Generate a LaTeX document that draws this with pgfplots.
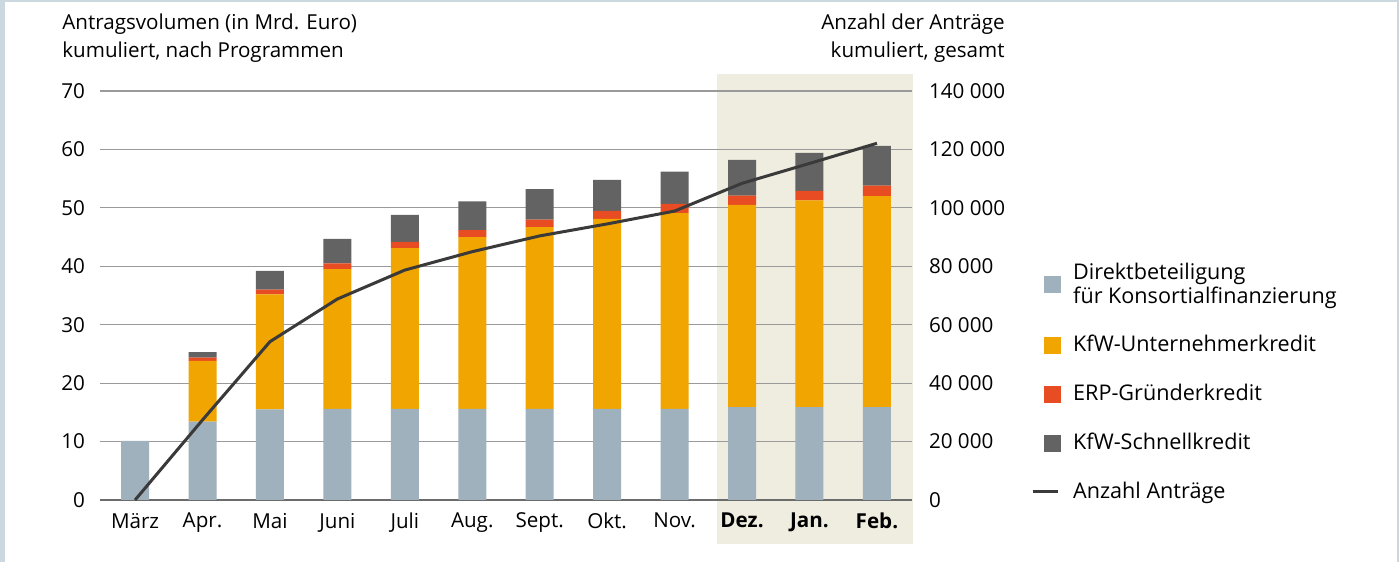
\documentclass[border=0pt]{standalone}
\usepackage{pgfplots}
\pgfplotsset{compat=1.18}
\usepackage{fontspec}
\setmainfont{Open Sans}
\definecolor{cBlue}{HTML}{9FB1BD}
\definecolor{cOrange}{HTML}{F0A500}
\definecolor{cRed}{HTML}{E84C22}
\definecolor{cDark}{HTML}{636363}
\definecolor{cShade}{HTML}{EFECE0}
\definecolor{cGrid}{HTML}{9A9A9A}
\definecolor{cLine}{HTML}{3A3A3A}
\definecolor{cFrame}{HTML}{CCD8E0}
\begin{document}
\begin{tikzpicture}[font=\fontsize{10.3}{12}\selectfont]
% canvas: 1 px = 0.5 pt, origin bottom-left
\fill[cFrame] (0,0) rectangle (699.5pt,281pt);
\fill[white] (2.5pt,0) rectangle (698.5pt,280.2pt);
\fill[cShade] (358.5pt,9pt) rectangle (456.5pt,244pt);
\node[anchor=west,align=left,inner sep=0pt] at (31pt,269pt) {Antragsvolumen (in Mrd. Euro)};
\node[anchor=west,align=left,inner sep=0pt] at (31pt,255pt) {kumuliert, nach Programmen};
\node[anchor=east,align=right,inner sep=0pt] at (502.5pt,269pt) {Anzahl der Anträge};
\node[anchor=east,align=right,inner sep=0pt] at (502.5pt,255pt) {kumuliert, gesamt};
\begin{axis}[
  at={(50pt,31pt)}, anchor=south west,
  scale only axis, width=406pt, height=204.5pt,
  ybar stacked, bar width=14pt,
  xmin=-0.52, xmax=11.52, ymin=0, ymax=70,
  ytick={0,10,...,70},
  yticklabels={0,10,20,30,40,50,60,70},
  xtick={0,...,11},
  xticklabels={März,Apr.,Mai,Juni,Juli,Aug.,Sept.,Okt.,Nov.,\textbf{Dez.},\textbf{Jan.},\textbf{Feb.}},
  axis y line*=left, axis x line*=bottom,
  y axis line style={draw=none},
  x axis line style={draw=cGrid!70!black, line width=0.6pt},
  ymajorgrids, grid style={cGrid, line width=0.6pt},
  major tick length=0pt,
  yticklabel style={xshift=-4pt},
  xticklabel style={yshift=-3pt},
  clip=false,
]
\addplot[fill=cBlue, draw=none] coordinates {(0,10.1) (1,13.4) (2,15.5) (3,15.6) (4,15.6) (5,15.6) (6,15.6) (7,15.6) (8,15.6) (9,15.9) (10,15.9) (11,15.9)};
\addplot[fill=cOrange, draw=none] coordinates {(0,0) (1,10.4) (2,19.7) (3,23.9) (4,27.5) (5,29.4) (6,31.1) (7,32.5) (8,33.5) (9,34.6) (10,35.4) (11,36.1)};
\addplot[fill=cRed, draw=none] coordinates {(0,0) (1,0.55) (2,0.8) (3,1.0) (4,1.1) (5,1.2) (6,1.3) (7,1.4) (8,1.6) (9,1.6) (10,1.6) (11,1.8)};
\addplot[fill=cDark, draw=none] coordinates {(0,0) (1,0.95) (2,3.2) (3,4.2) (4,4.6) (5,4.9) (6,5.2) (7,5.3) (8,5.5) (9,6.1) (10,6.5) (11,6.8)};
\end{axis}
\begin{axis}[
  at={(50pt,31pt)}, anchor=south west,
  scale only axis, width=406pt, height=204.5pt,
  xmin=-0.52, xmax=11.52, ymin=0, ymax=140000,
  ytick={0,20000,40000,60000,80000,100000,120000,140000},
  yticklabels={0,20 000,40 000,60 000,80 000,100 000,120 000,140 000},
  axis y line*=right, axis x line=none,
  y axis line style={draw=none},
  major tick length=0pt,
  yticklabel style={xshift=5pt},
  scaled y ticks=false,
  clip=false,
  legend style={at={(1.139,0.6)}, anchor=north west, draw=none, fill=none,
    row sep=10.7pt, font=\fontsize{10.8}{11.8}\selectfont,
    legend cell align=left, nodes={align=left, inner xsep=6pt}},
]
\addlegendimage{legend image code/.code={\fill[cBlue] (0.5pt,-4pt) rectangle (8.5pt,4pt);}}
\addlegendentry{Direktbeteiligung\\für Konsortialfinanzierung}
\addlegendimage{legend image code/.code={\fill[cOrange] (0.5pt,-4pt) rectangle (8.5pt,4pt);}}
\addlegendentry{KfW-Unternehmerkredit}
\addlegendimage{legend image code/.code={\fill[cRed] (0.5pt,-4pt) rectangle (8.5pt,4pt);}}
\addlegendentry{ERP-Gründerkredit}
\addlegendimage{legend image code/.code={\fill[cDark] (0.5pt,-4pt) rectangle (8.5pt,4pt);}}
\addlegendentry{KfW-Schnellkredit}
\addplot[cLine, line width=1.5pt, mark=none,
  legend image code/.code={\draw[cLine, line width=1.5pt] (-5.5pt,0) -- (7pt,0);}]
  coordinates {(0,0) (1,27400) (2,54200) (3,68800) (4,78700) (5,85000) (6,90400) (7,94500) (8,98900) (9,108400) (10,115200) (11,122100)};
\addlegendentry{Anzahl Anträge}
\end{axis}
\end{tikzpicture}
\end{document}
